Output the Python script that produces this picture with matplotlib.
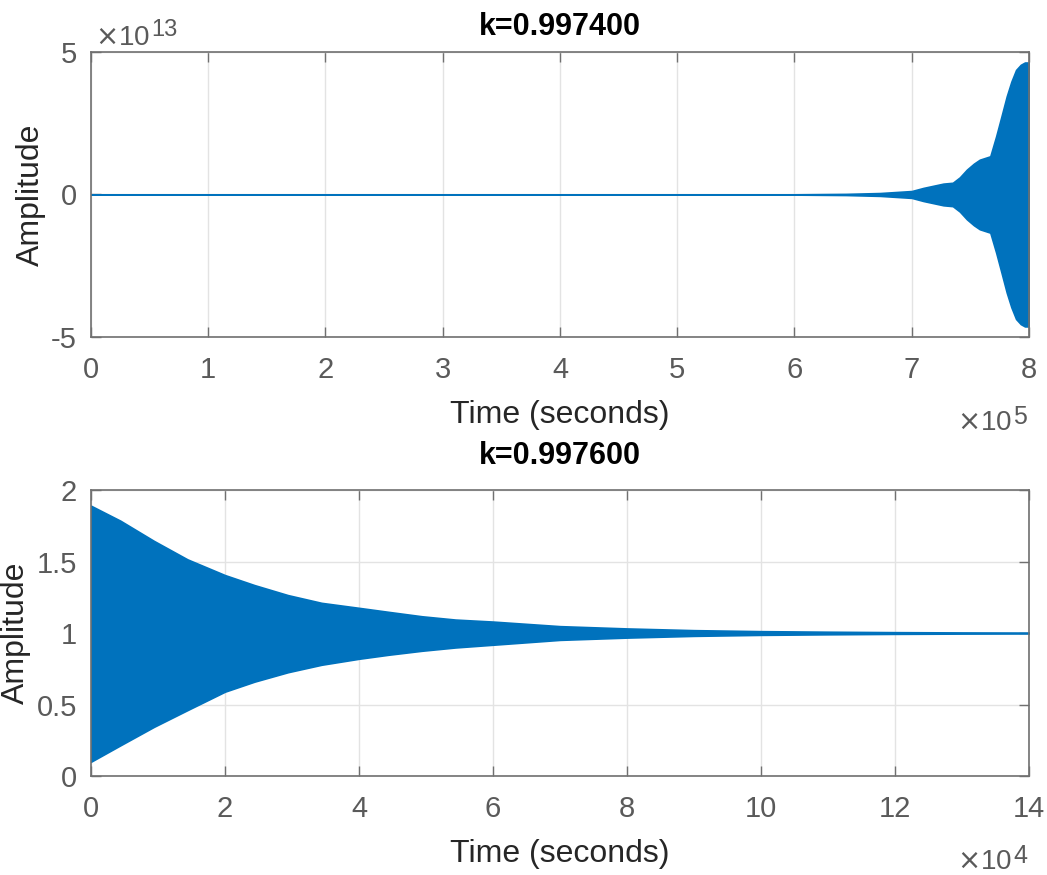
import numpy as np
import matplotlib
matplotlib.use("Agg")
import matplotlib.pyplot as plt
from matplotlib.ticker import FuncFormatter
from matplotlib.transforms import offset_copy

plt.rcParams['font.family'] = ['Liberation Sans', 'DejaVu Sans']
plt.rcParams['axes.unicode_minus'] = False

# k = 0.9974 : envelope of the growing oscillation
top_title = "k=0.997400"
top_t = [0, 5.0e5, 6.0e5, 6.44e5, 6.73e5, 7.0e5, 7.10e5, 7.27e5, 7.35e5, 7.41e5, 7.47e5,
         7.53e5, 7.58e5, 7.67e5, 7.72e5, 7.766e5, 7.81e5, 7.85e5, 7.89e5, 7.93e5, 7.965e5, 8.0e5]
top_env = [0, 0, 0.005e13, 0.02e13, 0.05e13, 0.12e13, 0.23e13, 0.38e13, 0.41e13, 0.6e13, 0.87e13,
           1.08e13, 1.22e13, 1.34e13, 2.04e13, 2.75e13, 3.44e13, 3.96e13, 4.37e13, 4.55e13,
           4.63e13, 4.63e13]
top_xticks = [0, 1e5, 2e5, 3e5, 4e5, 5e5, 6e5, 7e5, 8e5]
top_yticks = [-5e13, 0, 5e13]

# k = 0.9976 : envelope of the decaying oscillation around 1
bot_title = "k=0.997600"
bot_t = [0, 0.44e4, 0.94e4, 1.44e4, 2.0e4, 2.44e4, 2.94e4, 3.44e4, 4.0e4, 4.44e4, 4.94e4,
         5.44e4, 6.0e4, 7e4, 8e4, 9e4, 10e4, 11e4, 12e4, 13e4, 14e4]
bot_upper = [1.89, 1.785, 1.644, 1.515, 1.405, 1.335, 1.265, 1.211, 1.176, 1.148, 1.117,
             1.094, 1.08, 1.048, 1.032, 1.02, 1.013, 1.009, 1.006, 1.004, 1.003]
bot_lower = [0.10, 0.215, 0.344, 0.461, 0.59, 0.66, 0.726, 0.778, 0.82, 0.848, 0.876,
             0.899, 0.918, 0.952, 0.968, 0.98, 0.987, 0.991, 0.994, 0.996, 0.997]
bot_xticks = [0, 2e4, 4e4, 6e4, 8e4, 10e4, 12e4, 14e4]
bot_yticks = [0, 0.5, 1, 1.5, 2]

blue = '#0072BD'
txt = '#5a5a5a'
spine = '#707070'

fig = plt.figure(figsize=(10.47, 8.75), dpi=100)
ax1 = fig.add_axes([0.0869, 0.6149, 0.8959, 0.3257])
ax2 = fig.add_axes([0.0869, 0.1131, 0.8959, 0.3269])


def fmt(scale):
    def f(v, pos):
        return '%g' % (v / scale)
    return FuncFormatter(f)


def style(ax):
    ax.grid(True, color='#e3e3e3', linewidth=1)
    ax.set_axisbelow(True)
    ax.tick_params(direction='in', length=7, width=1, color=spine, labelcolor=txt,
                   labelsize=21, top=True, right=True)
    ax.tick_params(axis='x', pad=14)
    ax.tick_params(axis='y', pad=10)
    for s in ax.spines.values():
        s.set_color(spine)
        s.set_linewidth(1.2)
    ax.set_xlabel('Time (seconds)', fontsize=23, color='#262626', labelpad=11)
    ax.set_ylabel('Amplitude', fontsize=23, color='#262626', labelpad=4)


def exponent(ax, x, y, power, align):
    # MATLAB style "x10^n" label built from two texts
    r = fig.canvas.get_renderer()
    label = r'$\times$10'
    if align == 'left':
        base = ax.text(x, y, label, transform=ax.transAxes, ha='left', va='baseline',
                       fontsize=20, color=txt)
        w = base.get_window_extent(r).width
        ax.text(x, y, power, transform=offset_copy(ax.transAxes, fig, x=w + 1, y=9, units='dots'),
                ha='left', va='baseline', fontsize=17, color=txt)
    else:
        sup = ax.text(x, y, power, transform=offset_copy(ax.transAxes, fig, x=0, y=6, units='dots'),
                      ha='right', va='baseline', fontsize=18, color=txt)
        w = sup.get_window_extent(r).width
        ax.text(x, y, label, transform=offset_copy(ax.transAxes, fig, x=-w - 1, y=0, units='dots'),
                ha='right', va='baseline', fontsize=20, color=txt)


# top panel
t1 = np.array(top_t)
e1 = np.array(top_env)
ax1.fill_between(t1, -e1, e1, color=blue, edgecolor=blue, linewidth=1.2)
ax1.set_xlim(0, 8e5)
ax1.set_ylim(-5e13, 5e13)
ax1.set_xticks(top_xticks)
ax1.set_yticks(top_yticks)
ax1.xaxis.set_major_formatter(fmt(1e5))
ax1.yaxis.set_major_formatter(fmt(1e13))
style(ax1)
ax1.set_title(top_title, fontsize=22, fontweight='bold', pad=12)

# bottom panel
ax2.fill_between(bot_t, bot_lower, bot_upper, color=blue, edgecolor=blue, linewidth=1.2)
ax2.set_xlim(0, 14e4)
ax2.set_ylim(0, 2)
ax2.set_xticks(bot_xticks)
ax2.set_yticks(bot_yticks)
ax2.xaxis.set_major_formatter(fmt(1e4))
ax2.yaxis.set_major_formatter(fmt(1))
style(ax2)
ax2.set_title(bot_title, fontsize=22, fontweight='bold', pad=18.5)

exponent(ax1, 0.004, 1.0246, '13', 'left')
exponent(ax1, 0.998, -0.326, '5', 'right')
exponent(ax2, 0.998, -0.325, '4', 'right')

fig.savefig('out.png', dpi=100)
